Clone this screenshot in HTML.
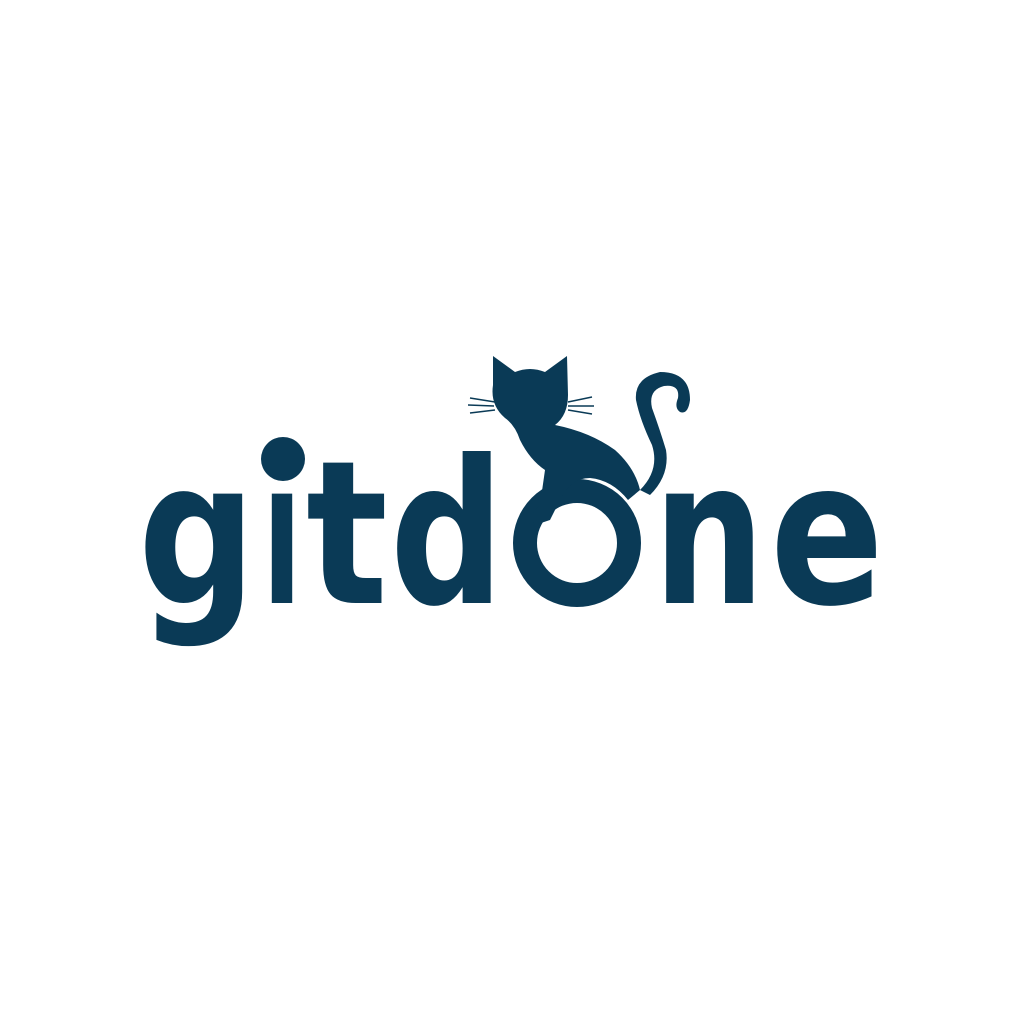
<!DOCTYPE html>
<html><head><meta charset="utf-8"><style>
html,body{margin:0;padding:0;background:#fff;width:1024px;height:1024px;overflow:hidden}
svg{display:block}
text{font-family:"DejaVu Sans","Liberation Sans",sans-serif;font-weight:bold;fill:#0a3a56}
</style></head><body>
<svg width="1024" height="1024" viewBox="0 0 1024 1024">
<rect width="1024" height="1024" fill="#fff"/>
<g>
<text x="138" y="603" font-size="200" textLength="118" lengthAdjust="spacingAndGlyphs">g</text>
<text x="262" y="603" font-size="200" textLength="40" lengthAdjust="spacingAndGlyphs">ı</text>
<circle cx="283" cy="459" r="22" fill="#0a3a56"/>
<text x="306" y="603" font-size="200" textLength="82" lengthAdjust="spacingAndGlyphs">t</text>
<text x="390" y="603" font-size="200" textLength="114" lengthAdjust="spacingAndGlyphs">d</text>
<circle cx="577" cy="543" r="52" fill="none" stroke="#0a3a56" stroke-width="24"/>
<text x="653" y="603" font-size="200" textLength="112" lengthAdjust="spacingAndGlyphs">n</text>
<text x="770" y="603" font-size="200" textLength="114" lengthAdjust="spacingAndGlyphs">e</text>
</g>
<g fill="#0a3a56">
<path d="M493 356 L515 372 Q530 366 545 372 L567 356 L568 395 Q568 415 555 425 Q590 432 615 450 Q635 468 640 490 L628 500 Q612 480 590 478 Q570 478 560 500 L550 520 L535 525 Q528 515 540 505 L545 470 Q530 460 520 440 Q515 425 505 418 Q490 405 493 385 Z"/>
<path d="M640 490 Q660 470 652 445 Q640 420 636 400 Q634 378 660 372 Q690 372 690 400 Q688 415 680 412 Q674 408 678 398 Q680 384 664 386 Q648 390 652 408 Q660 430 666 450 Q670 475 650 495 Z"/>
<path d="M527 522 Q514 528 518 540 L530 540 Q528 530 538 528 Z"/>
</g>
<g stroke="#0a3a56" stroke-width="1.5" fill="none">
<path d="M470 398 L495 402 M468 405 L494 406 M470 413 L495 410"/>
<path d="M568 402 L592 397 M568 406 L594 406 M568 410 L592 414"/>
</g>
</svg>
</body></html>
